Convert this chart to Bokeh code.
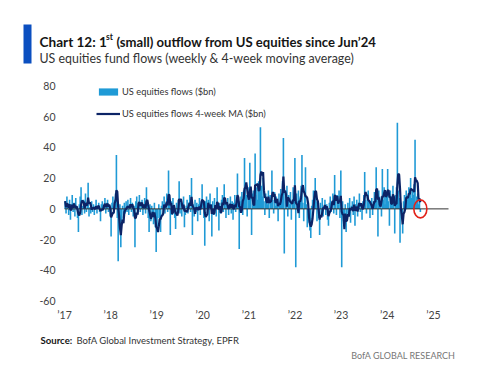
import pandas as pd
from bokeh.plotting import figure
from bokeh.models import Legend, LegendItem, Range1d, ColumnDataSource
from bokeh.embed import file_html
from bokeh.resources import INLINE
from bokeh.core.properties import value

# ---------------- data (weekly US equity fund flows, $bn) ----------------
flows_2017 = [5, -3, 8, 2, -4, 6, -7, 3, 9, -2, 4, -5, 7, 1, -6, -15, 3, 8, 14, -4,
              2, 6, -3, 10, -2, 4, 17, -5, 1, -3, 5, -2, 3, -4, 2, 6, -3, 1, 4, -2,
              -8, 3, 5, -1, 2, 7, -3, 4, 6, -2, 3, -5]
flows_2018 = [-18, 4, 8, -3, 6, 10, 35, -6, -34, -12, 3, -25, -8, 2, -6, 4, -3, 5, -2, 6,
              -4, 3, 7, -2, 4, -5, 2, -25, 5, 8, -3, 4, 9, -2, 3, 6, -4, 2, 7, -3,
              14, 5, -6, -15, 3, -8, 2, -5, -10, 4, -12, -28]
flows_2019 = [-14, -6, 3, -9, -15, 2, 5, -4, 8, -3, 4, 10, -2, 25, 3, -17, 5, -4, 7, 2,
              -6, -13, 4, -2, 6, 18, -3, 5, -5, 3, 8, -12, -4, 2, 6, -3, 4, 9, -2, 20,
              -17, 3, -5, 6, -2, 4, -8, 3, 7, -4, 5, 16]
flows_2020 = [4, -6, -24, 5, 8, -3, 6, -8, 10, 3, -18, 5, -4, 7, 2, -5, 14, 3, -14, 4,
              -3, 6, 9, -2, 16, 4, -6, 3, 7, -4, 2, 8, -3, 5, -7, 4, 9, -2, 6, 23,
              3, -26, 5, 8, 11, -4, 12, 33, 15, 9, -5, 14]
flows_2021 = [6, 30, 8, -17, 10, 12, 4, 36, 9, 14, 6, 18, 11, 53, 15, 8, 20, 5, -4, 10,
              7, 3, 12, -6, 9, 4, 25, 6, -3, 11, 2, 8, 5, -8, 10, 4, 13, 7, 18, 46,
              -29, 12, 8, 15, -5, 9, 3, 11, -7, 6, 14, 8]
flows_2022 = [33, -38, 10, 5, 12, -6, 8, 15, 35, 4, -8, 10, 27, 3, -12, -4, -9, -14, -19, 2,
              6, 12, 8, 20, 5, -8, 3, -6, -17, 4, -3, 7, -5, 2, 6, -4, 3, -7, -11, 4,
              8, -2, 5, 10, -3, 22, 6, -4, 9, 3, 12, -6]
flows_2023 = [25, -38, 5, -8, -12, 3, -15, -6, 4, -3, 7, -9, 2, 5, -4, 8, -11, 3, 6, -5,
              4, 10, -2, 3, -7, 5, 9, 24, 6, -3, 8, 12, 4, -6, 3, 7, -4, 5, 11, 6,
              27, 9, -18, 12, 8, 4, -5, 26, 6, 14, 3, 8]
flows_2024 = [10, 26, 5, -11, 12, 8, 3, 15, 6, -16, 9, 14, 56, 12, 7, -22, 4, -6, -16, 5,
              9, 3, 12, 6, 8, 14, 10, 20, 7, 12, 9, 16, 45, 4, 8, 10, 3, 6, -2]
first_week = "2017-01-06"

year_ticks = [2017, 2018, 2019, 2020, 2021, 2022, 2023, 2024, 2025]
year_labels = ["’17", "’18", "’19", "’20", "’21", "’22", "’23", "’24", "’25"]
y_ticks = [-60, -40, -20, 0, 20, 40, 60, 80]
y_labels = ["-60", "-40", "-20", "0", "20", "40", "60", "80"]

series_names = ["US equities flows ($bn)", "US equities flows 4-week MA ($bn)"]
title_parts = ["Chart 12: 1", "st", "(small) outflow from US equities since Jun’24"]
subtitle = "US equities fund flows (weekly & 4-week moving average)"
source_parts = ["Source:", "BofA Global Investment Strategy, EPFR"]
brand = "BofA GLOBAL RESEARCH"

flows = (flows_2017 + flows_2018 + flows_2019 + flows_2020 + flows_2021 +
         flows_2022 + flows_2023 + flows_2024)
dates = pd.date_range(first_week, periods=len(flows), freq="W-FRI")
ma4 = pd.Series(flows).rolling(4, min_periods=1).mean()
src = ColumnDataSource(dict(date=dates, flow=flows, ma=ma4))

FONT = "Lato"
BAR = "#1f9ad6"
NAVY = "#0c2466"
W, H = 495, 367

# ---- layout: the plotting area spans page x 61..448 and y 85.3 (=80) .. 300.7 (=-60)
axis_start, axis_end = pd.Timestamp("2016-12-08"), pd.Timestamp("2025-05-01")
PX_L, PX_R = 61.0, 448.0
ms_per_px = (axis_end - axis_start) / (PX_R - PX_L)
x_lo = axis_start - ms_per_px * PX_L
x_hi = axis_end + ms_per_px * (W - PX_R)
Y_TOP_PX, Y_BOT_PX = 85.3, 300.7
u_per_px = (80 - (-60)) / (Y_BOT_PX - Y_TOP_PX)
y_hi = 80 + Y_TOP_PX * u_per_px
y_lo = -60 - (H - Y_BOT_PX) * u_per_px

p = figure(width=W, height=H, output_backend="svg", toolbar_location=None,
           x_range=Range1d(x_lo, x_hi), y_range=Range1d(y_lo, y_hi),
           x_axis_location=None, y_axis_location=None,
           min_border=0, min_border_left=0, min_border_right=0,
           min_border_top=0, min_border_bottom=0)
p.outline_line_color = None
p.grid.visible = False
p.background_fill_color = "white"
p.extra_x_ranges = {"px": Range1d(0, W)}
p.extra_y_ranges = {"px": Range1d(H, 0)}


def txt(x, y, text, size, color, style="normal", align="left", baseline="alphabetic",
        xr="px", yr="px"):
    p.text(x=x, y=y, text=text, text_font=value(FONT), text_font_size=size,
           text_color=color, text_font_style=style, text_align=align,
           text_baseline=baseline, x_range_name=xr, y_range_name=yr)


# ---------------- chart ----------------
week_ms = 7 * 24 * 3600 * 1000
r_bar = p.vbar(x="date", top="flow", bottom=0, width=week_ms * 1.8, source=src,
               fill_color=BAR, line_color=None)
p.segment(x0=[dates[0] - pd.Timedelta(days=4)], x1=[axis_end], y0=[0], y1=[0],
          line_color="#333333", line_width=1)
r_ma = p.line(x="date", y="ma", source=src, line_color=NAVY, line_width=2.2)

# red circle on the latest observation
p.ellipse(x=[dates[-1]], y=[0], width=13, height=18, width_units="screen",
          height_units="screen", fill_color=None, line_color="#e2231a", line_width=1.6)

# axis tick labels, placed through the data scales
tick_dates = [pd.Timestamp(f"{y}-01-01") for y in year_ticks]
txt(tick_dates, [314] * len(tick_dates), year_labels, "10.5px", "#444444",
    align="center", baseline="middle", xr="default")
txt([55] * len(y_ticks), y_ticks, y_labels, "10.5px", "#444444",
    align="right", baseline="middle", yr="default")

legend = Legend(items=[LegendItem(label=series_names[0], renderers=[r_bar]),
                       LegendItem(label=series_names[1], renderers=[r_ma])],
                location=(96, H - 119), orientation="vertical",
                border_line_color=None, background_fill_alpha=0,
                padding=0, margin=0, spacing=10,
                glyph_width=24, glyph_height=9, label_height=12, label_standoff=2,
                label_text_font=FONT, label_text_font_size="9.3px",
                label_text_color="#333333")
p.add_layout(legend)

# ---------------- header ----------------
p.quad(left=[23], right=[31], top=[24], bottom=[63], fill_color="#0b4fc0",
       line_color=None, x_range_name="px", y_range_name="px")
txt([39], [41], [title_parts[0]], "13.6px", "#151515", "bold")
txt([105.4], [36], [title_parts[1]], "8.5px", "#151515", "bold")
txt([116], [41], [title_parts[2]], "13.1px", "#151515", "bold")
txt([39], [57.5], [subtitle], "12.4px", "#333333")

# ---------------- footer ----------------
txt([40], [340], [source_parts[0]], "9.6px", "#151515", "bold")
txt([76], [340], [source_parts[1]], "9.5px", "#333333")
txt([455], [355], [brand], "9px", "#777777", align="right")

open("out.html", "w").write(file_html(p, INLINE))
